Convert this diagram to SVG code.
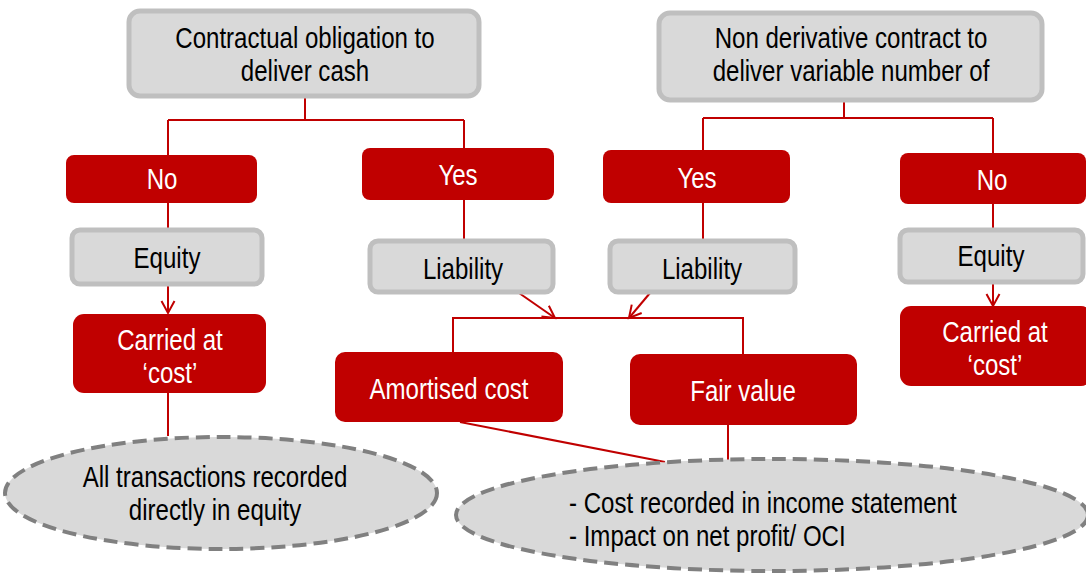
<svg xmlns="http://www.w3.org/2000/svg" width="1086" height="574" viewBox="0 0 1086 574">
<style>
.g{fill:#d9d9d9;stroke:#bfbfbf;stroke-width:5}
.r{fill:#c00000;stroke:none}
.e{fill:#d9d9d9;stroke:#808080;stroke-width:4;stroke-dasharray:14 7}
.t{font-family:"Liberation Sans",Arial,sans-serif;font-size:29px;text-anchor:middle}
.s{text-anchor:start}
.tb{fill:#000}
.tw{fill:#fff}
.c{fill:none;stroke:#c00000;stroke-width:2}
</style>
<defs>
<marker id="ah" markerWidth="16" markerHeight="16" refX="13" refY="8" orient="auto" markerUnits="userSpaceOnUse">
<path d="M1,1.5 L13,8 L1,14.5" fill="none" stroke="#c00000" stroke-width="2"/>
</marker>
</defs>
<rect width="1086" height="574" fill="#fff"/>
<g id="connectors">
<path class="c" d="M305,97 V120 M168,120 H464 M168,120 V155 M464,120 V148"/>
<path class="c" d="M844,101 V118 M703,118 H993 M703,118 V150 M993,118 V153"/>
<path class="c" d="M168,203 V229"/>
<path class="c" d="M168,285 V313" marker-end="url(#ah)"/>
<path class="c" d="M168,393 V436"/>
<path class="c" d="M464,200 V240"/>
<path class="c" d="M703,203 V240"/>
<path class="c" d="M519,293 L555,318" marker-end="url(#ah)"/>
<path class="c" d="M650,293 L629,318" marker-end="url(#ah)"/>
<path class="c" d="M453,352 V318 H743 V354"/>
<path class="c" d="M460,422 L665,462"/>
<path class="c" d="M728,425 V462"/>
<path class="c" d="M993,204 V229"/>
<path class="c" d="M993,282 V306" marker-end="url(#ah)"/>
</g>
<g id="n-contractual">
<rect class="g" x="129" y="11" width="350" height="85" rx="11"/>
<text class="t tb" transform="translate(305,48) scale(0.83,1)">Contractual obligation to</text>
<text class="t tb" transform="translate(305,81) scale(0.83,1)">deliver cash</text>
</g>
<g id="n-nonderivative">
<rect class="g" x="659" y="13" width="383" height="87" rx="11"/>
<text class="t tb" transform="translate(851,48) scale(0.83,1)">Non derivative contract to</text>
<text class="t tb" transform="translate(851,81) scale(0.83,1)">deliver variable number of</text>
</g>
<g id="n-no-left">
<rect class="r" x="66" y="155" width="191" height="48" rx="8"/>
<text class="t tw" transform="translate(162,189) scale(0.83,1)">No</text>
</g>
<g id="n-yes-left">
<rect class="r" x="362" y="148" width="192" height="52" rx="8"/>
<text class="t tw" transform="translate(458,185) scale(0.83,1)">Yes</text>
</g>
<g id="n-yes-right">
<rect class="r" x="603" y="150" width="187" height="53" rx="8"/>
<text class="t tw" transform="translate(697,188) scale(0.83,1)">Yes</text>
</g>
<g id="n-no-right">
<rect class="r" x="900" y="153" width="186" height="51" rx="8"/>
<text class="t tw" transform="translate(992,190) scale(0.83,1)">No</text>
</g>
<g id="n-equity-left">
<rect class="g" x="72" y="230" width="190" height="54" rx="8"/>
<text class="t tb" transform="translate(167,268) scale(0.83,1)">Equity</text>
</g>
<g id="n-carried-left">
<rect class="r" x="73" y="314" width="193" height="79" rx="11"/>
<text class="t tw" transform="translate(170,350) scale(0.83,1)">Carried at</text>
<text class="t tw" transform="translate(170,383) scale(0.83,1)">‘cost’</text>
</g>
<g id="n-liability-left">
<rect class="g" x="370" y="241" width="183" height="51" rx="8"/>
<text class="t tb" transform="translate(463,279) scale(0.83,1)">Liability</text>
</g>
<g id="n-liability-right">
<rect class="g" x="610" y="241" width="185" height="51" rx="8"/>
<text class="t tb" transform="translate(702,279) scale(0.83,1)">Liability</text>
</g>
<g id="n-amortised">
<rect class="r" x="335" y="352" width="228" height="70" rx="10"/>
<text class="t tw" transform="translate(449,399) scale(0.83,1)">Amortised cost</text>
</g>
<g id="n-fairvalue">
<rect class="r" x="630" y="354" width="227" height="71" rx="10"/>
<text class="t tw" transform="translate(743,401) scale(0.83,1)">Fair value</text>
</g>
<g id="n-equity-right">
<rect class="g" x="900" y="230" width="183" height="52" rx="8"/>
<text class="t tb" transform="translate(991,266) scale(0.83,1)">Equity</text>
</g>
<g id="n-carried-right">
<rect class="r" x="900" y="306" width="192" height="80" rx="11"/>
<text class="t tw" transform="translate(995,342) scale(0.83,1)">Carried at</text>
<text class="t tw" transform="translate(995,375) scale(0.83,1)">‘cost’</text>
</g>
<g id="n-all-transactions">
<ellipse class="e" cx="221" cy="493" rx="216" ry="56"/>
<text class="t tb" transform="translate(215,487) scale(0.83,1)">All transactions recorded</text>
<text class="t tb" transform="translate(215,520) scale(0.83,1)">directly in equity</text>
</g>
<g id="n-cost-recorded">
<ellipse class="e" cx="772" cy="515" rx="316" ry="56"/>
<text class="t s tb" transform="translate(569,513) scale(0.83,1)">- Cost recorded in income statement</text>
<text class="t s tb" transform="translate(569,546) scale(0.83,1)">- Impact on net profit/ OCI</text>
</g>
</svg>
